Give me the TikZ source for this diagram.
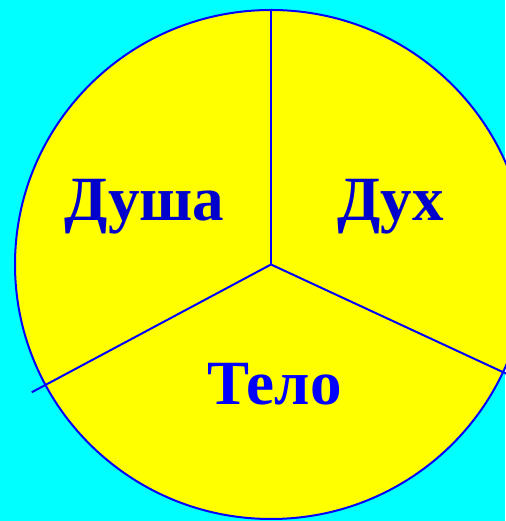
\documentclass[tikz,border=0pt]{standalone}
\usepackage{fontspec}
\setmainfont{Liberation Serif}
\usepackage{xcolor}
\definecolor{bgcyan}{RGB}{0, 255, 255}
\definecolor{discyellow}{RGB}{255, 255, 0}
\definecolor{edgeblue}{RGB}{0, 0, 255}
\definecolor{wordblue}{RGB}{0, 0, 204}
\usepackage{tikz}
\usetikzlibrary{positioning}

\begin{document}
\begin{tikzpicture}[
    x=1pt, y=1pt,
    disc/.style={
        draw=edgeblue, fill=discyellow, line width=2pt
    },
    divider/.style={
        draw=edgeblue, line width=2pt
    },
    word/.style={
        font=\bfseries\fontsize{63}{70}\selectfont, anchor=base, inner sep=0pt
    }
]

% Background
\fill[bgcyan] (0,0) rectangle (505,521);
\useasboundingbox (0,0) rectangle (505,521);

% Disc
\coordinate (c) at (271,256.5);
\draw[disc] (c) ellipse [x radius=256, y radius=254.5];

% Divider ends
\coordinate (top) at (271,511);
\coordinate (lowleft) at (31.7,128.7);
\coordinate (lowright) at (512,144.7);

% Dividers
\draw[divider] (c) -- (top);
\draw[divider] (c) -- (lowleft);
\draw[divider] (c) -- (lowright);

% Words
\node[word, text=wordblue] (soul) at (144.5,300) {Душа};
\node[word, text=wordblue] (spirit) at (390.5,300) {Дух};
\node[word, text=edgeblue] (body) at (274.5,116) {Тело};

\end{tikzpicture}
\end{document}
